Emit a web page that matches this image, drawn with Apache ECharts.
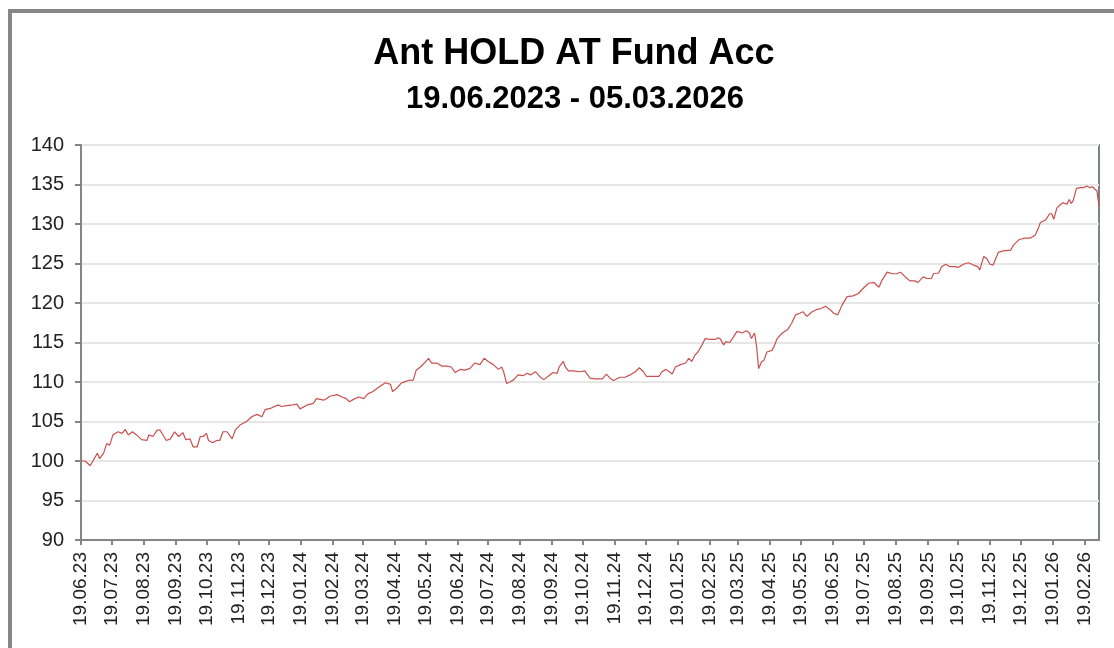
<!DOCTYPE html>
<html>
<head>
<meta charset="utf-8">
<script src="https://cdn.jsdelivr.net/npm/echarts@6/dist/echarts.min.js"></script>
<style>
html,body{margin:0;padding:0;background:#fff;}
#chart{width:1114px;height:648px;}
</style>
</head>
<body>
<div id="chart"></div>
<script>
const titleText = 'Ant HOLD AT Fund Acc';
const subtitleText = '19.06.2023 - 05.03.2026';
const startDate = '2023-06-19';
const endDate = '2026-03-05';
const yTicks = [90, 95, 100, 105, 110, 115, 120, 125, 130, 135, 140];

const dates = [
'19.06.23','23.06.23','28.06.23','01.07.23','05.07.23','07.07.23','11.07.23','14.07.23','17.07.23','20.07.23',
'25.07.23','29.07.23','01.08.23','04.08.23','08.08.23','12.08.23','17.08.23','22.08.23','24.08.23','28.08.23',
'01.09.23','04.09.23','10.09.23','14.09.23','18.09.23','22.09.23','26.09.23','29.09.23','03.10.23','06.10.23',
'10.10.23','13.10.23','16.10.23','19.10.23','21.10.23','25.10.23','29.10.23','01.11.23','04.11.23','08.11.23',
'13.11.23','16.11.23','21.11.23','27.11.23','02.12.23','07.12.23','12.12.23','15.12.23','21.12.23','28.12.23',
'31.12.23','05.01.24','11.01.24','15.01.24','18.01.24','25.01.24','31.01.24','03.02.24','10.02.24','13.02.24',
'16.02.24','23.02.24','28.02.24','03.03.24','06.03.24','10.03.24','15.03.24','20.03.24','24.03.24','29.03.24',
'03.04.24','10.04.24','15.04.24','17.04.24','21.04.24','25.04.24','29.04.24','04.05.24','07.05.24','10.05.24',
'14.05.24','18.05.24','22.05.24','25.05.24','30.05.24','04.06.24','09.06.24','13.06.24','17.06.24','22.06.24',
'26.06.24','01.07.24','06.07.24','11.07.24','15.07.24','19.07.24','24.07.24','29.07.24','01.08.24','03.08.24',
'06.08.24','09.08.24','13.08.24','17.08.24','22.08.24','26.08.24','29.08.24','03.09.24','07.09.24','11.09.24',
'16.09.24','20.09.24','24.09.24','26.09.24','30.09.24','02.10.24','05.10.24','10.10.24','16.10.24','21.10.24',
'26.10.24','31.10.24','07.11.24','11.11.24','15.11.24','18.11.24','24.11.24','29.11.24','04.12.24','09.12.24',
'13.12.24','17.12.24','20.12.24','25.12.24','01.01.25','04.01.25','08.01.25','14.01.25','17.01.25','22.01.25',
'27.01.25','30.01.25','02.02.25','05.02.25','08.02.25','12.02.25','15.02.25','20.02.25','25.02.25','28.02.25',
'02.03.25','05.03.25','07.03.25','11.03.25','15.03.25','18.03.25','23.03.25','27.03.25','30.03.25','01.04.25',
'04.04.25','06.04.25','08.04.25','11.04.25','13.04.25','16.04.25','21.04.25','23.04.25','26.04.25','01.05.25',
'06.05.25','10.05.25','14.05.25','18.05.25','21.05.25','25.05.25','30.05.25','04.06.25','08.06.25','12.06.25',
'17.06.25','20.06.25','24.06.25','28.06.25','03.07.25','09.07.25','14.07.25','19.07.25','24.07.25','29.07.25',
'03.08.25','06.08.25','11.08.25','16.08.25','20.08.25','24.08.25','29.08.25','02.09.25','07.09.25','10.09.25',
'15.09.25','19.09.25','23.09.25','25.09.25','30.09.25','03.10.25','07.10.25','11.10.25','16.10.25','19.10.25',
'24.10.25','29.10.25','03.11.25','07.11.25','09.11.25','13.11.25','16.11.25','19.11.25','22.11.25','27.11.25',
'02.12.25','09.12.25','12.12.25','17.12.25','22.12.25','28.12.25','02.01.26','05.01.26','07.01.26','12.01.26',
'16.01.26','18.01.26','20.01.26','23.01.26','26.01.26','29.01.26','02.02.26','04.02.26','06.02.26','08.02.26',
'11.02.26','15.02.26','18.02.26','21.02.26','24.02.26','27.02.26','01.03.26','03.03.26','05.03.26'
];

const values = [
100.0,100.0,99.4,100.1,101.0,100.3,101.0,102.2,102.0,103.3,
103.7,103.5,104.0,103.3,103.7,103.3,102.7,102.6,103.3,103.1,
103.9,103.9,102.6,102.8,103.7,103.1,103.6,102.7,102.8,101.8,
101.8,103.1,103.1,103.5,102.6,102.3,102.6,102.6,103.7,103.7,
102.8,103.9,104.6,105.0,105.6,105.9,105.6,106.5,106.7,107.1,
106.9,107.0,107.1,107.2,106.6,107.1,107.3,107.9,107.7,107.9,
108.2,108.4,108.1,107.9,107.5,107.8,108.1,107.9,108.5,108.8,
109.3,109.9,109.7,108.8,109.2,109.8,110.05,110.25,110.2,111.5,
111.9,112.4,113.0,112.4,112.4,112.0,112.0,111.9,111.2,111.6,
111.5,111.7,112.4,112.2,113.0,112.6,112.2,111.6,111.9,111.3,
109.8,110.0,110.3,110.9,110.8,111.1,110.9,111.3,110.7,110.3,
110.8,111.2,111.1,111.9,112.6,111.9,111.4,111.4,111.3,111.4,
110.5,110.4,110.4,111.0,110.4,110.2,110.6,110.6,110.9,111.3,
111.8,111.3,110.7,110.7,110.7,111.3,111.6,111.0,111.9,112.2,
112.4,113.0,112.6,113.4,113.8,114.7,115.5,115.4,115.4,115.6,
115.4,114.7,115.1,115.0,115.8,116.4,116.2,116.5,116.2,115.5,
116.2,114.5,111.7,112.6,112.7,113.8,114.0,114.5,115.5,116.2,
116.6,117.4,118.5,118.7,118.9,118.3,118.9,119.2,119.3,119.6,
119.1,118.7,118.5,119.7,120.8,120.9,121.2,121.9,122.5,122.6,
122.0,122.9,123.9,123.7,123.7,123.9,123.25,122.8,122.8,122.6,
123.3,123.1,123.1,123.7,123.8,124.6,124.9,124.6,124.6,124.5,
124.9,125.1,124.8,124.6,124.2,125.9,125.6,124.9,124.8,126.4,
126.6,126.7,127.35,128.0,128.2,128.2,128.6,129.45,130.2,130.5,
131.3,131.3,130.6,132.0,132.4,132.7,132.5,133.1,132.6,133.0,
134.5,134.6,134.6,134.8,134.6,134.7,134.4,134.2,132.3
];

function fmt(d) {
  const dd = String(d.getUTCDate()).padStart(2, '0');
  const mm = String(d.getUTCMonth() + 1).padStart(2, '0');
  const yy = String(d.getUTCFullYear() % 100).padStart(2, '0');
  return dd + '.' + mm + '.' + yy;
}
const categories = [];
for (let t = Date.parse(startDate + 'T00:00:00Z'); t <= Date.parse(endDate + 'T00:00:00Z'); t += 86400000) {
  categories.push(fmt(new Date(t)));
}
const seriesData = dates.map((d, i) => [d, values[i]]);
const isTickDay = (idx, val) => String(val).slice(0, 2) === '19';

const chart = echarts.init(document.getElementById('chart'), null, {renderer: 'canvas'});
const axisGray = '#858585';
chart.setOption({
  animation: false,
  backgroundColor: '#ffffff',
  graphic: [{
    type: 'rect', silent: true, z: -1,
    shape: {x: 10, y: 11, width: 1200, height: 700},
    style: {fill: 'none', stroke: '#878787', lineWidth: 4}
  }],
  title: [{
    text: titleText,
    left: 569, top: 31, textAlign: 'center',
    textStyle: {fontFamily: 'Liberation Sans, Arial, sans-serif', fontSize: 36, fontWeight: 'bold', color: '#000'}
  }, {
    text: subtitleText,
    left: 570, top: 79, textAlign: 'center',
    textStyle: {fontFamily: 'Liberation Sans, Arial, sans-serif', fontSize: 31, fontWeight: 'bold', color: '#000'}
  }],
  grid: {
    left: 81, top: 145, right: 15, bottom: 108,
    show: true, borderColor: '#7c8185', borderWidth: 2, backgroundColor: 'transparent'
  },
  xAxis: {
    type: 'category',
    data: categories,
    boundaryGap: false,
    axisLine: {lineStyle: {color: axisGray, width: 2}},
    axisTick: {show: true, interval: isTickDay, length: 5, lineStyle: {color: axisGray, width: 2}},
    axisLabel: {
      interval: isTickDay, rotate: 90, margin: 12,
      fontFamily: 'Liberation Sans, Arial, sans-serif', fontSize: 19, color: '#222'
    },
    splitLine: {show: false}
  },
  yAxis: {
    type: 'value',
    min: yTicks[0], max: yTicks[yTicks.length - 1], interval: 5,
    axisLine: {show: true, lineStyle: {color: axisGray, width: 2}},
    axisTick: {show: true, length: 6, lineStyle: {color: axisGray, width: 2}},
    axisLabel: {
      margin: 17, fontFamily: 'Liberation Sans, Arial, sans-serif', fontSize: 20, color: '#222'
    },
    splitLine: {show: true, lineStyle: {color: '#e6e6e6', width: 2}}
  },
  series: [{
    type: 'line',
    data: seriesData,
    showSymbol: false,
    symbol: 'none',
    lineStyle: {color: '#c8504e', width: 1.2},
    z: 3
  }]
});
</script>
</body>
</html>
